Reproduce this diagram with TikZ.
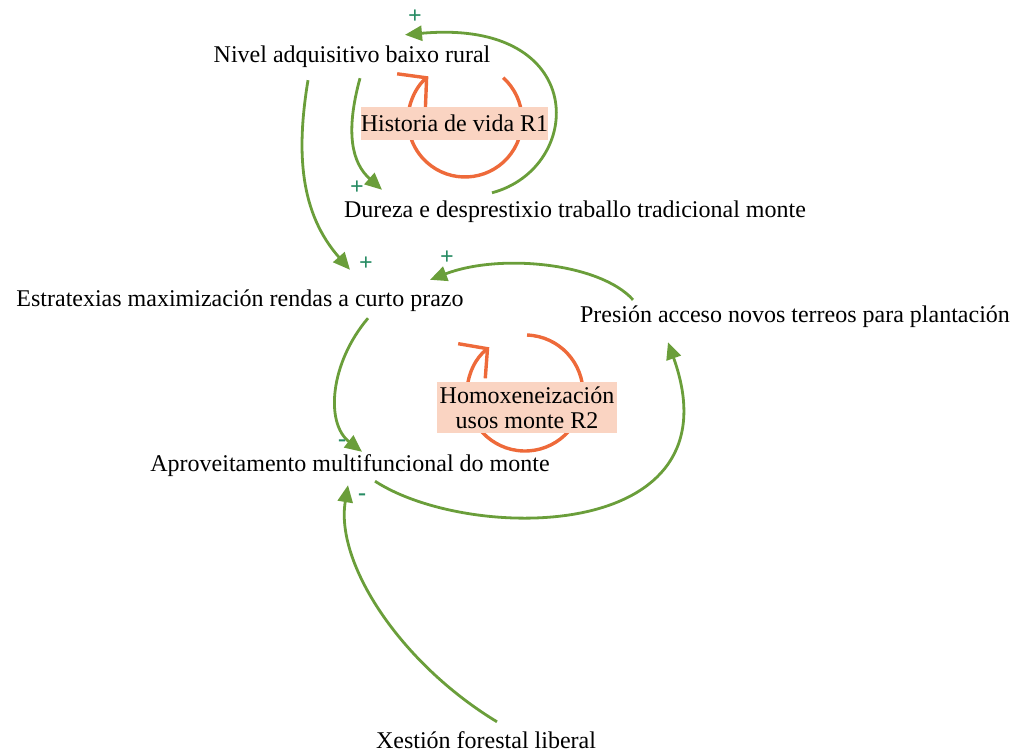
\documentclass[tikz,border=0pt]{standalone}
\usepackage{fontspec}
\setmainfont{Liberation Serif}
\usepackage{tikz}
\usetikzlibrary{arrows.meta}
\definecolor{loopgreen}{RGB}{106,158,58}
\definecolor{signteal}{RGB}{40,140,100}
\definecolor{looporange}{RGB}{238,106,58}
\definecolor{boxpeach}{RGB}{250,212,194}

\begin{document}
\begin{tikzpicture}[x=1pt,y=1pt,
  var/.style={font=\fontsize{24}{28}\selectfont, inner sep=2pt, text height=16pt, text depth=5pt},
  link/.style={draw=loopgreen, line width=2.8pt, -{Triangle[length=17pt,width=15pt]}},
  sign/.style={text=signteal, font=\fontsize{24}{24}\selectfont\bfseries, inner sep=0pt},
  loopline/.style={draw=looporange, line width=3.4pt, -{Straight Barb[length=20pt,width=44pt]}},
  loopbox/.style={fill=boxpeach, font=\fontsize{24}{25}\selectfont, inner sep=0pt, align=center}]
\useasboundingbox (0,0) rectangle (1018,753);

% Variables
\node[var] (niv) at (352,695.5) {Nivel adquisitivo baixo rural};
\node[var] (dur) at (575,540.5) {Dureza e desprestixio traballo tradicional monte};
\node[var] (est) at (240,452) {Estratexias maximización rendas a curto prazo};
\node[var] (pre) at (795,435.5) {Presión acceso novos terreos para plantación};
\node[var] (apr) at (350,287) {Aproveitamento multifuncional do monte};
\node[var] (xes) at (486,10.5) {Xestión forestal liberal};

% Loop R1
\draw[loopline] (465,633) ++(48:57) arc (48:-230:57);
\node[loopbox, minimum width=187pt, minimum height=33pt] (r1) at (454.5,629.5) {Historia de vida R1};

% Loop R2
\draw[loopline] (525,360) ++(88:58) arc (88:-232:58);
\node[loopbox, minimum width=180pt, minimum height=51pt] (r2) at (527,345.5) {Homoxeneización\\usos monte R2};

% Causal links
\draw[link] ([xshift=-83pt,yshift=7pt]dur.north) .. controls (585,585) and (590,735) .. ([xshift=53pt,yshift=10pt]niv.north);
\draw[link] ([xshift=8pt,yshift=-8pt]niv.south) .. controls (345,620) and (352,590) .. ([xshift=-193pt,yshift=10pt]dur.north);
\draw[link] ([xshift=-44pt,yshift=-10pt]niv.south) .. controls (296,600) and (300,540) .. ([xshift=110pt,yshift=18.5pt]est.north);
\draw[link] ([xshift=-162pt,yshift=5pt]pre.north) .. controls (600,490) and (500,500) .. ([xshift=190pt,yshift=8.5pt]est.north);
\draw[link] ([xshift=128pt,yshift=-4.5pt]est.south) .. controls (330,390) and (325,330) .. ([xshift=12pt,yshift=1.5pt]apr.north);
\draw[link] ([xshift=25pt,yshift=-2.5pt]apr.south) .. controls (470,210) and (740,210) .. ([xshift=-127pt,yshift=-12pt]pre.south);
\draw[link] ([xshift=11pt,yshift=8pt]xes.north) .. controls (400,90) and (335,190) .. ([xshift=-2pt,yshift=-6.5pt]apr.south);

% Polarities
\node[sign] (s1) at (415,736) {+};
\node[sign] (s2) at (357,565) {+};
\node[sign] (s3) at (366,489) {+};
\node[sign] (s4) at (447,495) {+};
\node[sign] (s5) at (342,310) {-};
\node[sign] (s6) at (362,256) {-};
\end{tikzpicture}
\end{document}
